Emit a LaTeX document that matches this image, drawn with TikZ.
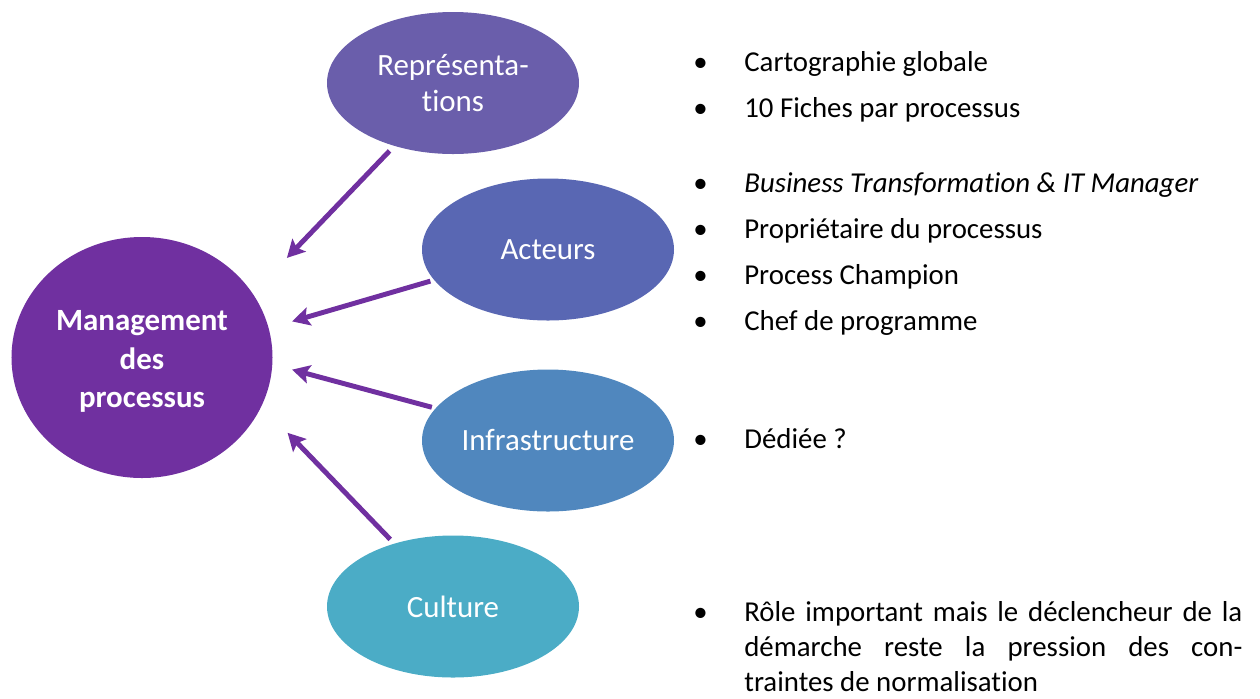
\documentclass[tikz,border=0pt]{standalone}
\usepackage{fontspec}
\setmainfont{Carlito}[Ligatures=NoCommon]
\usepackage{tikz}
\usetikzlibrary{
	arrows.meta,
	shapes.geometric,
	positioning
}
\definecolor{ProcPurple}{RGB}{112,48,160}
\definecolor{RepColor}{RGB}{106,94,171}
\definecolor{ActColor}{RGB}{89,103,179}
\definecolor{InfraColor}{RGB}{80,135,190}
\definecolor{CultColor}{RGB}{75,172,198}

\begin{document}
\begin{tikzpicture}[
		bubble/.style={ellipse, minimum width=5.04cm, minimum height=2.84cm, inner sep=0pt, outer sep=0pt, text=white, align=center, font=\fontsize{17.6}{20}\selectfont},
		arr/.style={line width=2.8pt, ProcPurple, -{Stealth[length=10pt, width=10.5pt, inset=2pt]}},
		item/.style={anchor=base west, inner sep=0pt, font=\fontsize{16.4}{19.8}\selectfont}
	]
			\useasboundingbox (0,0) rectangle (25.2,-13.96);
			% ellipses
			\node[bubble, fill=ProcPurple, minimum width=5.22cm, minimum height=4.82cm, font=\fontsize{17.6}{22}\selectfont\bfseries] (mgmt) at (2.84,-7.15) {\rule{0pt}{16pt}Management\\des\\processus};
			\node[bubble, fill=RepColor] (repr) at (9.06,-1.66) {Représenta-\\tions};
			\node[bubble, fill=ActColor] (acteurs) at (10.96,-4.99) {Acteurs};
			\node[bubble, fill=InfraColor] (infra) at (10.96,-8.81) {Infrastructure};
			\node[bubble, fill=CultColor] (culture) at (9.06,-12.13) {Culture};
			% arrows
			\draw[arr, shorten <=0.14cm, shorten >=0.99cm] (repr.227.3) -- (mgmt.30);
			\draw[arr, shorten <=0.08cm, shorten >=0.49cm] (acteurs.195.5) -- (mgmt.13.3);
			\draw[arr, shorten <=0.08cm, shorten >=0.41cm] (infra.164.5) -- (mgmt.357.4);
			\draw[arr, shorten <=0.12cm, shorten >=0.75cm] (culture.133) -- (mgmt.338.5);
			% lists
			\node[item] (carto) at (13.86,-1.42) {\makebox[1.02cm][l]{•}Cartographie globale};
			\node[item] (fiches) at (13.86,-2.346) {\makebox[1.02cm][l]{•}10 Fiches par processus};
			\node[item] (business) at (13.86,-3.854) {\makebox[1.02cm][l]{•}\textit{Business Transformation \& IT Manager}};
			\node[item] (proprio) at (13.86,-4.766) {\makebox[1.02cm][l]{•}Propriétaire du processus};
			\node[item] (champion) at (13.86,-5.68) {\makebox[1.02cm][l]{•}Process Champion};
			\node[item] (chef) at (13.86,-6.60) {\makebox[1.02cm][l]{•}Chef de programme};
			\node[item] (dediee) at (13.86,-8.966) {\makebox[1.02cm][l]{•}Dédiée ?};
			\node[item, text width=9.96cm, align=justify] (role) at (14.88,-12.434) {\llap{\makebox[1.02cm][l]{•}}Rôle important mais le déclencheur de la\linebreak démarche reste la pression des con-\linebreak traintes de normalisation};
		\end{tikzpicture}
\end{document}
